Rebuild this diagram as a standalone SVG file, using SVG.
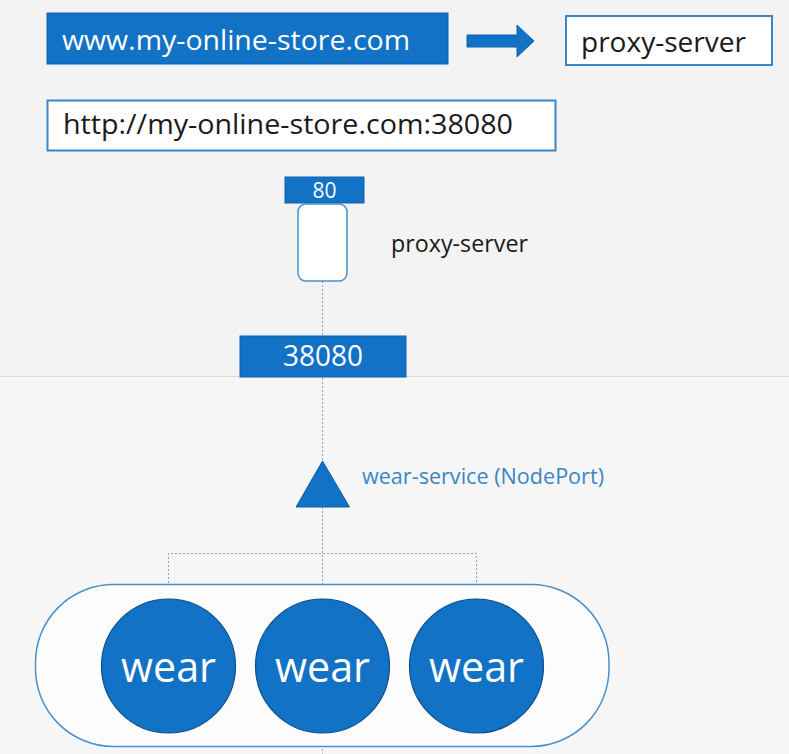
<svg xmlns="http://www.w3.org/2000/svg" width="789" height="754" viewBox="0 0 789 754">
<style>
.t{font-family:"Open Sans","Noto Sans","Liberation Sans",sans-serif}
.blue{fill:#1272c6;stroke:#0e63b0;stroke-width:1}
.wbox{fill:#ffffff;stroke:#3a86c8;stroke-width:2}
.dot{fill:none;stroke:#8aa3bd;stroke-width:1;stroke-dasharray:2 2}
.wt{fill:#ffffff}
.bt{fill:#1a1a1a}
</style>
<rect x="0" y="0" width="789" height="754" fill="#f3f3f3"/>
<rect x="0" y="376" width="789" height="378" fill="#f6f6f6"/>
<line x1="0" y1="376.5" x2="789" y2="376.5" stroke="#dadada" stroke-width="1"/>

<g id="connectors">
<line class="dot" x1="322.5" y1="281" x2="322.5" y2="336"/>
<line class="dot" x1="322.5" y1="378" x2="322.5" y2="461"/>
<line class="dot" x1="322.5" y1="507" x2="322.5" y2="599"/>
<polyline class="dot" points="168.5,599 168.5,553.5 476.5,553.5 476.5,599"/>
<line class="dot" x1="322.5" y1="733" x2="322.5" y2="754"/>
</g>

<g id="url-box">
<rect class="blue" x="47" y="13" width="401" height="51"/>
<text class="t wt" x="62" y="50" font-size="28" textLength="348" lengthAdjust="spacingAndGlyphs">www.my-online-store.com</text>
</g>

<g id="arrow">
<polygon fill="#1272c6" stroke="#0e63b0" stroke-width="1" points="467,35 517,35 517,25 534,41 517,57 517,47 467,47"/>
</g>

<g id="proxy-box">
<rect class="wbox" x="566" y="16" width="206" height="49"/>
<text class="t bt" x="581" y="52" font-size="28" textLength="165" lengthAdjust="spacingAndGlyphs">proxy-server</text>
</g>

<g id="http-box">
<rect class="wbox" x="47.5" y="100.5" width="508" height="50"/>
<text class="t bt" x="63" y="134" font-size="28" textLength="450" lengthAdjust="spacingAndGlyphs">http://my-online-store.com:38080</text>
</g>

<g id="proxy-server">
<rect class="blue" x="285" y="177" width="79" height="26"/>
<text class="t wt" x="324.5" y="197.5" font-size="21" text-anchor="middle">80</text>
<rect x="298" y="204" width="49" height="77" rx="8" fill="#ffffff" stroke="#4a8fcc" stroke-width="1.5"/>
<text class="t" x="391" y="252" font-size="23" fill="#1a1a1a" textLength="137" lengthAdjust="spacingAndGlyphs">proxy-server</text>
</g>

<g id="nodeport">
<rect class="blue" x="240" y="336" width="166" height="41"/>
<text class="t wt" x="323" y="366" font-size="29" text-anchor="middle" textLength="80" lengthAdjust="spacingAndGlyphs">38080</text>
</g>

<g id="wear-service">
<polygon fill="#1272c6" stroke="#0e5ea6" stroke-width="1" points="322.5,461 349.5,507 296,507"/>
<text class="t" x="362" y="484" font-size="21" fill="#3a86c4" textLength="242" lengthAdjust="spacingAndGlyphs">wear-service (NodePort)</text>
</g>

<g id="node">
<rect x="35.5" y="584.5" width="573.5" height="162" rx="78" ry="78" fill="#fcfcfc" stroke="#4a8fcc" stroke-width="1.5"/>
</g>

<g id="pod1">
<circle cx="168.5" cy="666" r="67" fill="#1272c6" stroke="#0b4f8f" stroke-width="1.2"/>
<text class="t wt" x="168.5" y="682" font-size="42" text-anchor="middle" textLength="95" lengthAdjust="spacingAndGlyphs">wear</text>
</g>
<g id="pod2">
<circle cx="322.5" cy="666" r="67" fill="#1272c6" stroke="#0b4f8f" stroke-width="1.2"/>
<text class="t wt" x="322.5" y="682" font-size="42" text-anchor="middle" textLength="95" lengthAdjust="spacingAndGlyphs">wear</text>
</g>
<g id="pod3">
<circle cx="476.5" cy="666" r="67" fill="#1272c6" stroke="#0b4f8f" stroke-width="1.2"/>
<text class="t wt" x="476.5" y="682" font-size="42" text-anchor="middle" textLength="95" lengthAdjust="spacingAndGlyphs">wear</text>
</g>
</svg>
